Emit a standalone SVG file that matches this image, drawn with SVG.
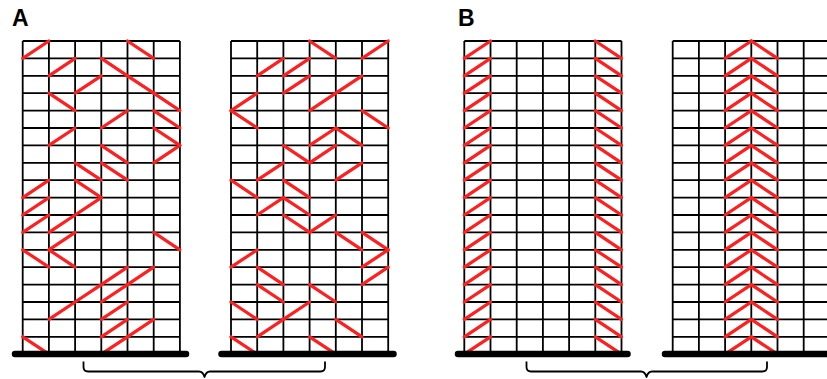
<svg xmlns="http://www.w3.org/2000/svg" xmlns:xlink="http://www.w3.org/1999/xlink" width="827" height="379" viewBox="0 0 827 379">
<style>
.grid{fill:none;stroke:#000;stroke-width:1.8}
.br{fill:none;stroke:#ff1f1f;stroke-width:3.2;stroke-linecap:round}
.ground{stroke:#000;stroke-width:6.5;stroke-linecap:round}
.brace{fill:none;stroke:#000;stroke-width:1.8;stroke-linejoin:round}
.lbl{font-family:"Liberation Sans",Arial,sans-serif;font-weight:bold;font-size:23px;fill:#000}
</style>
<defs>
<path id="grid" d="M0,0V313M26.2,0V313M52.4,0V313M78.6,0V313M104.8,0V313M131,0V313M157.2,0V313M0,0H157.2M0,17.4H157.2M0,34.8H157.2M0,52.2H157.2M0,69.6H157.2M0,87H157.2M0,104.4H157.2M0,121.8H157.2M0,139.2H157.2M0,156.6H157.2M0,174H157.2M0,191.4H157.2M0,208.8H157.2M0,226.2H157.2M0,243.6H157.2M0,261H157.2M0,278.4H157.2M0,295.8H157.2"/>
<path id="u" d="M0,17.4L26.2,0"/>
<path id="d" d="M0,0L26.2,17.4"/>
<path id="colU" d="M0,17.4L26.2,0M0,34.8L26.2,17.4M0,52.2L26.2,34.8M0,69.6L26.2,52.2M0,87L26.2,69.6M0,104.4L26.2,87M0,121.8L26.2,104.4M0,139.2L26.2,121.8M0,156.6L26.2,139.2M0,174L26.2,156.6M0,191.4L26.2,174M0,208.8L26.2,191.4M0,226.2L26.2,208.8M0,243.6L26.2,226.2M0,261L26.2,243.6M0,278.4L26.2,261M0,295.8L26.2,278.4M0,313.2L26.2,295.8"/>
<path id="colD" d="M0,0L26.2,17.4M0,17.4L26.2,34.8M0,34.8L26.2,52.2M0,52.2L26.2,69.6M0,69.6L26.2,87M0,87L26.2,104.4M0,104.4L26.2,121.8M0,121.8L26.2,139.2M0,139.2L26.2,156.6M0,156.6L26.2,174M0,174L26.2,191.4M0,191.4L26.2,208.8M0,208.8L26.2,226.2M0,226.2L26.2,243.6M0,243.6L26.2,261M0,261L26.2,278.4M0,278.4L26.2,295.8M0,295.8L26.2,313.2"/>
</defs>
<rect width="827" height="379" fill="#fff"/>

<text id="labelA" class="lbl" x="12" y="26">A</text>
<text id="labelB" class="lbl" x="458" y="26">B</text>

<g id="frameA1" transform="translate(22.7,41)">
<use href="#grid" class="grid"/>
<g class="br">
<use href="#u" x="0" y="0"/><use href="#d" x="104.8" y="0"/>
<use href="#u" x="26.2" y="17.4"/><use href="#d" x="78.6" y="17.4"/>
<use href="#u" x="52.4" y="34.8"/><use href="#d" x="104.8" y="34.8"/>
<use href="#d" x="26.2" y="52.2"/><use href="#d" x="131" y="52.2"/>
<use href="#u" x="78.6" y="69.6"/><use href="#d" x="131" y="69.6"/>
<use href="#u" x="26.2" y="87"/><use href="#d" x="131" y="87"/>
<use href="#u" x="131" y="104.4"/><use href="#d" x="78.6" y="104.4"/>
<use href="#d" x="52.4" y="121.8"/><use href="#d" x="78.6" y="121.8"/>
<use href="#u" x="0" y="139.2"/><use href="#d" x="52.4" y="139.2"/>
<use href="#u" x="0" y="156.6"/><use href="#u" x="52.4" y="156.6"/>
<use href="#u" x="0" y="174"/><use href="#u" x="26.2" y="174"/>
<use href="#u" x="26.2" y="191.4"/><use href="#d" x="131" y="191.4"/>
<use href="#d" x="0" y="208.8"/><use href="#d" x="26.2" y="208.8"/>
<use href="#u" x="78.6" y="226.2"/><use href="#u" x="104.8" y="226.2"/>
<use href="#u" x="52.4" y="243.6"/><use href="#u" x="78.6" y="243.6"/>
<use href="#u" x="26.2" y="261"/><use href="#u" x="78.6" y="261"/>
<use href="#u" x="78.6" y="278.4"/><use href="#u" x="104.8" y="278.4"/>
<use href="#d" x="0" y="295.8"/><use href="#u" x="78.6" y="295.8"/>
</g>
</g>

<g id="frameA2" transform="translate(231,41)">
<use href="#grid" class="grid"/>
<g class="br">
<use href="#d" x="78.6" y="0"/><use href="#u" x="131" y="0"/>
<use href="#u" x="26.2" y="17.4"/><use href="#u" x="52.4" y="17.4"/>
<use href="#u" x="52.4" y="34.8"/><use href="#u" x="104.8" y="34.8"/>
<use href="#u" x="0" y="52.2"/><use href="#u" x="78.6" y="52.2"/>
<use href="#d" x="0" y="69.6"/><use href="#d" x="131" y="69.6"/>
<use href="#u" x="78.6" y="87"/><use href="#d" x="104.8" y="87"/>
<use href="#d" x="52.4" y="104.4"/><use href="#u" x="78.6" y="104.4"/>
<use href="#u" x="26.2" y="121.8"/><use href="#u" x="104.8" y="121.8"/>
<use href="#d" x="0" y="139.2"/><use href="#d" x="52.4" y="139.2"/>
<use href="#u" x="26.2" y="156.6"/><use href="#d" x="52.4" y="156.6"/>
<use href="#d" x="52.4" y="174"/><use href="#u" x="78.6" y="174"/>
<use href="#d" x="104.8" y="191.4"/><use href="#d" x="131" y="191.4"/>
<use href="#u" x="0" y="208.8"/><use href="#u" x="131" y="208.8"/>
<use href="#d" x="26.2" y="226.2"/><use href="#u" x="131" y="226.2"/>
<use href="#d" x="26.2" y="243.6"/><use href="#d" x="78.6" y="243.6"/>
<use href="#d" x="0" y="261"/><use href="#u" x="52.4" y="261"/>
<use href="#u" x="26.2" y="278.4"/><use href="#d" x="104.8" y="278.4"/>
<use href="#d" x="0" y="295.8"/><use href="#d" x="78.6" y="295.8"/>
</g>
</g>

<g id="frameB1" transform="translate(464.3,41)">
<use href="#grid" class="grid"/>
<g class="br">
<use href="#colU" x="0"/>
<use href="#colD" x="131"/>
</g>
</g>

<g id="frameB2" transform="translate(672.7,41)">
<use href="#grid" class="grid"/>
<g class="br">
<use href="#colU" x="52.4"/>
<use href="#colD" x="78.6"/>
</g>
</g>

<g id="grounds">
<line class="ground" x1="15" y1="354" x2="186" y2="354"/>
<line class="ground" x1="221.5" y1="354" x2="393.5" y2="354"/>
<line class="ground" x1="458" y1="354" x2="627.5" y2="354"/>
<line class="ground" x1="665" y1="354" x2="840" y2="354"/>
</g>

<g id="braces">
<path class="brace" d="M83.5,361.5V367Q83.5,371.5 88,371.5H199Q203,371.5 204.5,377Q206,371.5 210,371.5H320.5Q325,371.5 325,367V361.5"/>
<path class="brace" d="M526.5,361.5V367Q526.5,371.5 531,371.5H641Q645,371.5 646.5,377Q648,371.5 652,371.5H762.5Q767,371.5 767,367V361.5"/>
</g>
</svg>
